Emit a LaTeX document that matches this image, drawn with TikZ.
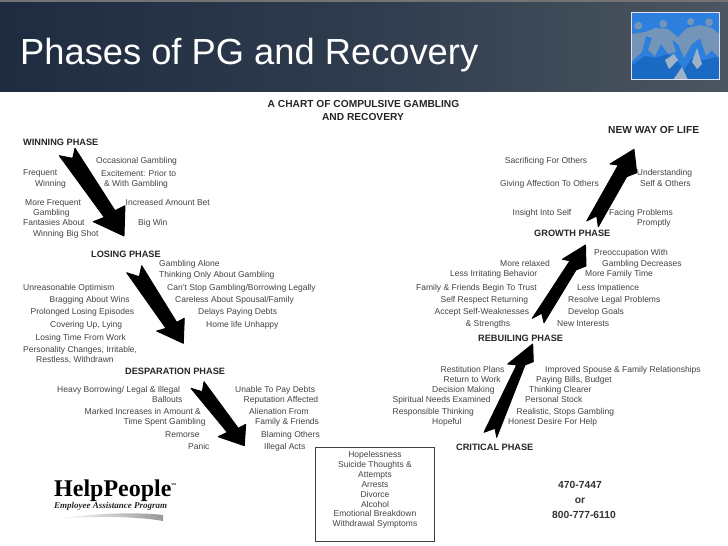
\documentclass[tikz,border=0pt]{standalone}
\usepackage{fontspec}
\setmainfont{Liberation Sans}
\newfontfamily\logofont{Liberation Serif}
\definecolor{txtgrey}{HTML}{404346}
\definecolor{headL}{HTML}{1F2C40}
\definecolor{headM}{HTML}{2F3C4E}
\definecolor{headR}{HTML}{4C5660}
\definecolor{iconblue}{HTML}{2C7FDC}
\definecolor{icondark}{HTML}{1A6AC4}
\definecolor{iconfig}{HTML}{7494B8}
\definecolor{iconpale}{HTML}{9DB2C6}
\tikzset{
  lbl/.style={anchor=west,inner sep=0pt,text height=6.2pt,text depth=1.8pt,text=txtgrey,font=\fontsize{8.5}{10}\selectfont},
  clbl/.style={lbl,anchor=center},
  phase/.style={anchor=west,inner sep=0pt,text height=6.6pt,text depth=0pt,text=black!85,font=\fontsize{9.2}{10}\bfseries\selectfont},
  bigphase/.style={phase,font=\fontsize{10.2}{12}\bfseries\selectfont},
  phone/.style={anchor=center,inner sep=0pt,text=black!80,font=\fontsize{10.3}{12}\bfseries\selectfont},
  blockarrow/.style={fill=black,draw=black,line width=0.9pt,line join=round},
}
\newcommand{\lb}[4]{\node[lbl] (#1) at (#2,#3) {#4};}
\newcommand{\cl}[3]{\node[clbl] (#1) at (375,#2) {#3};}
\newcommand{\ph}[4]{\node[phase] (#1) at (#2,#3) {#4};}
\begin{document}
\begin{tikzpicture}[x=1pt,y=-1pt]
\useasboundingbox (0,0) rectangle (728,546);
\fill[white] (0,0) rectangle (728,546);
% header
\fill[black!55] (0,0) rectangle (728,2);
\shade[left color=headL,right color=headR,middle color=headM] (0,2) rectangle (728,91);
\node[anchor=west,inner sep=0pt,text=white,font=\fontsize{36.3}{40}\selectfont] (title) at (20,55) {Phases of PG and Recovery};
% icon
\begin{scope}
\clip (631,12) rectangle (719,79.5);
\fill[iconblue] (631,12) rectangle (719,80);
\fill[icondark] (631,80) -- (631,66) -- (645,56) -- (655,58) -- (668,54) -- (676,60) -- (684,70) -- (692,58) -- (705,60) -- (719,56) -- (719,80) -- cycle;
% figures
\fill[iconfig] (638.3,25.7) circle (4);
\fill[iconfig] (663.3,24) circle (4);
\fill[iconfig] (690.7,21.7) circle (3.6);
\fill[iconfig] (709,22.3) circle (4);
\fill[iconfig] (631,34) -- (645,32) -- (655,28) -- (668,29) -- (678,37) -- (687,28) -- (700,25) -- (712,28) -- (719,34) -- (719,58) -- (712,50) -- (706,56) -- (700,38) -- (692,44) -- (684,58) -- (678,44) -- (672,40) -- (676,52) -- (668,54) -- (661,44) -- (655,56) -- (648,50) -- (652,38) -- (646,36) -- (642,52) -- (631,62) -- cycle;
\fill[iconpale] (665,60) -- (674,54) -- (678,60) -- (669,69) -- cycle;
\fill[iconpale] (673,80) -- (682,67) -- (688,80) -- cycle;
\fill[iconpale] (692,62) -- (697,48) -- (702,64) -- (697,69) -- cycle;
\end{scope}
\draw[white!88!blue,line width=1pt] (631,12) rectangle (719,79.5);
% chart title
\node[bigphase,anchor=center] (charttitle) at (363.5,104.5) {A CHART OF COMPULSIVE GAMBLING};
\node[bigphase,anchor=center] (charttitleb) at (363,117) {AND RECOVERY};
% phase headings
\ph{winning}{23}{142}{WINNING PHASE}
\ph{losing}{91}{253.7}{LOSING PHASE}
\ph{desperation}{125}{370.7}{DESPARATION PHASE}
\node[bigphase] (newway) at (608,130) {NEW WAY OF LIFE};
\ph{growth}{534}{233}{GROWTH PHASE}
\ph{rebuilding}{478}{337.7}{REBUILING PHASE}
\ph{critical}{456}{446.7}{CRITICAL PHASE}
% winning
\lb{a1}{96}{161.7}{Occasional Gambling}
\lb{a2}{23}{173.7}{Frequent}
\lb{a3}{35}{184}{Winning}
\lb{a4}{101}{174}{Excitement: Prior to}
\lb{a5}{104}{184}{\& With Gambling}
\lb{a6}{25}{203.7}{More Frequent}
\lb{a7}{33}{213.7}{Gambling}
\lb{a8}{125.5}{203.5}{Increased Amount Bet}
\lb{a9}{23}{223}{Fantasies About}
\lb{a10}{138}{223}{Big Win}
\lb{a11}{33}{234}{Winning Big Shot}
% losing
\lb{b1}{159}{264}{Gambling Alone}
\lb{b2}{159}{275}{Thinking Only About Gambling}
\lb{b3}{23}{288}{Unreasonable Optimism}
\lb{b4}{167}{288}{Can't Stop Gambling/Borrowing Legally}
\lb{b5}{49.5}{300.7}{Bragging About Wins}
\lb{b6}{175}{300.7}{Careless About Spousal/Family}
\lb{b7}{30.5}{312.7}{Prolonged Losing Episodes}
\lb{b8}{198}{312.7}{Delays Paying Debts}
\lb{b9}{50}{325}{Covering Up, Lying}
\lb{b10}{206}{325}{Home life Unhappy}
\lb{b11}{35.5}{338}{Losing Time From Work}
\lb{b12}{23}{350}{Personality Changes, Irritable,}
\lb{b13}{36}{360}{Restless, Withdrawn}
% desperation
\lb{c1}{57}{390}{Heavy Borrowing/ Legal \& Illegal}
\lb{c2}{152}{400.7}{Ballouts}
\lb{c3}{235}{390.5}{Unable To Pay Debts}
\lb{c4}{243.5}{400.7}{Reputation Affected}
\lb{c5}{84.5}{412}{Marked Increases in Amount \&}
\lb{c6}{249}{412}{Alienation From}
\lb{c7}{123.5}{422}{Time Spent Gambling}
\lb{c8}{255}{422.5}{Family \& Friends}
\lb{c9}{165}{435}{Remorse}
\lb{c10}{261}{435}{Blaming Others}
\lb{c11}{188}{447}{Panic}
\lb{c12}{264}{447}{Illegal Acts}
% new way of life
\lb{d1}{504.7}{161}{Sacrificing For Others}
\lb{d2}{500}{184}{Giving Affection To Others}
\lb{d3}{636.7}{173.7}{Understanding}
\lb{d4}{640}{184}{Self \& Others}
\lb{d5}{512.5}{213}{Insight Into Self}
\lb{d6}{609}{213.5}{Facing Problems}
\lb{d7}{637}{223}{Promptly}
% growth
\lb{e1}{594}{253.7}{Preoccupation With}
\lb{e2}{602}{264}{Gambling Decreases}
\lb{e3}{500}{264}{More relaxed}
\lb{e4}{450}{274.3}{Less Irritating Behavior}
\lb{e5}{585}{274.5}{More Family Time}
\lb{e6}{416}{288}{Family \& Friends Begin To Trust}
\lb{e7}{577}{288}{Less Impatience}
\lb{e8}{440.5}{300.7}{Self Respect Returning}
\lb{e9}{568}{300.7}{Resolve Legal Problems}
\lb{e10}{434.5}{312.3}{Accept Self-Weaknesses}
\lb{e11}{568}{312.3}{Develop Goals}
\lb{e12}{465.5}{324.7}{\& Strengths}
\lb{e13}{557}{324.7}{New Interests}
% rebuilding
\lb{f1}{440.5}{370.7}{Restitution Plans}
\lb{f2}{545}{370.7}{Improved Spouse \& Family Relationships}
\lb{f3}{443.5}{380}{Return to Work}
\lb{f4}{536}{380}{Paying Bills, Budget}
\lb{f5}{432}{390}{Decision Making}
\lb{f6}{529}{390}{Thinking Clearer}
\lb{f7}{392.5}{400}{Spiritual Needs Examined}
\lb{f8}{525}{400}{Personal Stock}
\lb{f9}{392.5}{412}{Responsible Thinking}
\lb{f10}{516.5}{412}{Realistic, Stops Gambling}
\lb{f11}{432}{422}{Hopeful}
\lb{f12}{508}{422}{Honest Desire For Help}
% block arrows
\path[blockarrow] (59.3,155.7) -- (72.7,158.3) -- (75,148.3) -- (115,210.7) -- (125,205.7) -- (124,236) -- (93.3,221.7) -- (104.3,217.3) -- cycle;
\path[blockarrow] (126.7,272.7) -- (139.3,276.7) -- (141.7,265.7) -- (176.7,322.3) -- (184.3,318.3) -- (183.3,343.3) -- (156.7,331) -- (166,328.3) -- cycle;
\path[blockarrow] (191,388.3) -- (202.3,391.7) -- (204,381.7) -- (238.3,428.3) -- (245.7,424.3) -- (244.3,445.7) -- (218.3,436.7) -- (227.3,432.3) -- cycle;
\path[blockarrow] (484,432.3) -- (495,428.3) -- (496.7,437.3) -- (525,365) -- (533.3,361.7) -- (532.7,344) -- (507.7,364) -- (516.7,365) -- cycle;
\path[blockarrow] (532.3,318.3) -- (541.7,313.3) -- (544,322.7) -- (576,270) -- (586,266) -- (585.5,245) -- (562.3,259.3) -- (570,260.7) -- cycle;
\path[blockarrow] (586.7,221) -- (596.7,216) -- (598.3,226.7) -- (626.7,176.7) -- (636.7,172.7) -- (634,149.3) -- (610,164) -- (618.3,165) -- cycle;
% box
\draw[black!75,line width=0.8pt] (315,447) rectangle (434,541);
\cl{g1}{455.7}{Hopelessness}
\cl{g2}{465}{Suicide Thoughts \&}
\cl{g3}{475}{Attempts}
\cl{g4}{485.5}{Arrests}
\cl{g5}{495}{Divorce}
\cl{g6}{505}{Alcohol}
\cl{g7}{514}{Emotional Breakdown}
\cl{g8}{524}{Withdrawal Symptoms}
% logo
\node[anchor=west,inner sep=0pt,font=\logofont\fontsize{24}{26}\bfseries\selectfont,text=black] (logo) at (54,491) {HelpPeople\raisebox{11pt}{\fontsize{3}{3}\selectfont SM}};
\node[anchor=west,inner sep=0pt,font=\logofont\fontsize{9}{10}\bfseries\itshape\selectfont,text=black!85] (logosub) at (54,506) {Employee Assistance Program};
\shade[left color=white,right color=black!40] (58,519) .. controls (90,513) and (140,512) .. (163,515) -- (163,521) .. controls (135,516) and (90,516) .. (58,519) -- cycle;
% phones
\node[phone] (p1) at (580,485) {470-7447};
\node[phone] (p2) at (580,500.7) {or};
\node[phone] (p3) at (584,515) {800-777-6110};
\end{tikzpicture}
\end{document}
